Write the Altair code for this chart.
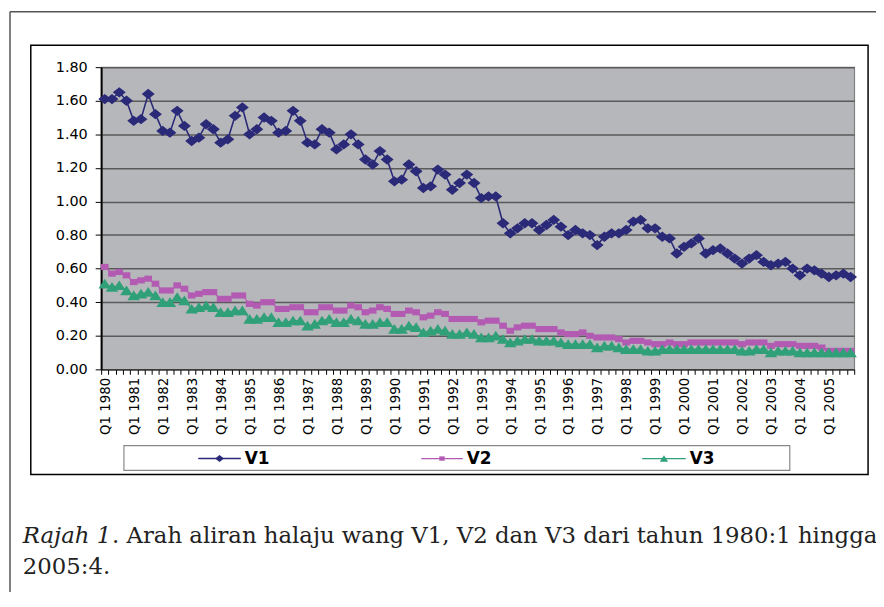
import altair as alt
import pandas as pd

series_names = ["V1", "V2", "V3"]
first_year = 1980

v1 = [1.61, 1.61, 1.65, 1.60, 1.48, 1.49, 1.64, 1.52, 1.42, 1.41,
      1.54, 1.45, 1.36, 1.38, 1.46, 1.43, 1.35, 1.37, 1.51, 1.56,
      1.40, 1.43, 1.50, 1.48, 1.41, 1.42, 1.54, 1.48, 1.35, 1.34,
      1.43, 1.41, 1.31, 1.34, 1.40, 1.34, 1.25, 1.22, 1.30, 1.25,
      1.12, 1.13, 1.22, 1.18, 1.08, 1.09, 1.19, 1.16, 1.07, 1.11,
      1.16, 1.11, 1.02, 1.03, 1.03, 0.87, 0.81, 0.84, 0.87, 0.87,
      0.83, 0.86, 0.89, 0.85, 0.80, 0.83, 0.81, 0.80, 0.74, 0.79,
      0.81, 0.81, 0.83, 0.88, 0.89, 0.84, 0.84, 0.79, 0.78, 0.69,
      0.73, 0.75, 0.78, 0.69, 0.71, 0.72, 0.69, 0.66, 0.63, 0.66,
      0.68, 0.64, 0.62, 0.63, 0.64, 0.60, 0.56, 0.60, 0.59, 0.57,
      0.55, 0.56, 0.57, 0.55]
v2 = [0.61, 0.57, 0.58, 0.56, 0.52, 0.53, 0.54, 0.51, 0.47, 0.47,
      0.50, 0.48, 0.44, 0.45, 0.46, 0.46, 0.42, 0.42, 0.44, 0.44,
      0.39, 0.38, 0.40, 0.40, 0.36, 0.36, 0.37, 0.37, 0.34, 0.34,
      0.37, 0.37, 0.35, 0.35, 0.38, 0.37, 0.34, 0.35, 0.37, 0.36,
      0.33, 0.33, 0.35, 0.34, 0.31, 0.32, 0.34, 0.33, 0.30, 0.30,
      0.30, 0.30, 0.28, 0.29, 0.29, 0.26, 0.23, 0.25, 0.26, 0.26,
      0.24, 0.24, 0.24, 0.22, 0.21, 0.21, 0.22, 0.20, 0.19, 0.19,
      0.19, 0.18, 0.16, 0.17, 0.17, 0.16, 0.15, 0.15, 0.16, 0.15,
      0.15, 0.16, 0.16, 0.16, 0.16, 0.16, 0.16, 0.16, 0.15, 0.16,
      0.16, 0.16, 0.14, 0.15, 0.15, 0.15, 0.14, 0.14, 0.14, 0.13,
      0.11, 0.11, 0.11, 0.11]
v3 = [0.51, 0.49, 0.50, 0.47, 0.44, 0.45, 0.46, 0.44, 0.40, 0.40,
      0.43, 0.41, 0.36, 0.37, 0.38, 0.37, 0.34, 0.34, 0.35, 0.35,
      0.30, 0.30, 0.31, 0.31, 0.28, 0.28, 0.29, 0.29, 0.26, 0.27,
      0.29, 0.30, 0.28, 0.28, 0.30, 0.29, 0.27, 0.27, 0.28, 0.28,
      0.24, 0.24, 0.26, 0.25, 0.22, 0.23, 0.24, 0.23, 0.21, 0.21,
      0.22, 0.21, 0.19, 0.19, 0.20, 0.18, 0.16, 0.17, 0.18, 0.18,
      0.17, 0.17, 0.17, 0.16, 0.15, 0.15, 0.15, 0.15, 0.13, 0.14,
      0.14, 0.13, 0.12, 0.12, 0.12, 0.11, 0.11, 0.12, 0.12, 0.12,
      0.12, 0.12, 0.12, 0.12, 0.12, 0.12, 0.12, 0.12, 0.11, 0.11,
      0.12, 0.12, 0.10, 0.11, 0.11, 0.11, 0.10, 0.10, 0.10, 0.10,
      0.10, 0.10, 0.10, 0.10]

y_ticks = [0.0, 0.2, 0.4, 0.6, 0.8, 1.0, 1.2, 1.4, 1.6, 1.8]
caption_italic = "Rajah 1"
caption_rest = ". Arah aliran halaju wang V1, V2 dan V3 dari tahun 1980:1 hingga"
caption_line2 = "2005:4."

colors = ["#2B2A78", "#B35AB3", "#2FA077"]
shapes = ["M0,-0.8L1,0L0,0.8L-1,0Z",
          "M-1,-0.8L1,-0.8L1,0.8L-1,0.8Z",
          "M0,-0.8L1,0.75L-1,0.75Z"]
sizes = [170, 60, 160]
legend_sizes = [80, 30, 70]
widths = [1.6, 1.2, 1.2]

n = len(v1)
rows = []
for k, (name, vals) in enumerate(zip(series_names, [v1, v2, v3])):
    for i, v in enumerate(vals):
        rows.append({"t": i, "quarter": f"{first_year + i // 4}:{i % 4 + 1}",
                     "series": name, "value": v,
                     "msize": sizes[k], "sw": widths[k]})
df = pd.DataFrame(rows)

W, H = 760, 305
PL, PT = 94, 57

label_expr = ("(datum.value + 0.5) % 4 == 0 && datum.value < " + str(n - 1)
              + " ? 'Q1 ' + (" + str(first_year) + " + (datum.value + 0.5) / 4) : ''")

x_enc = alt.X("t:Q",
              scale=alt.Scale(domain=[-0.5, n - 0.5], nice=False, zero=False),
              axis=alt.Axis(values=[k - 0.5 for k in range(n + 1)], labelExpr=label_expr,
                            labelAngle=-90, labelOverlap=False, labelFlush=False,
                            labelBound=False, labelOffset=4.5, labelPadding=3,
                            labelFont="DejaVu Sans", labelFontSize=13.5, labelColor="#000",
                            tickSize=5, tickColor="#000", domainColor="#333",
                            domainWidth=1.2, grid=False, title=None))
y_enc = alt.Y("value:Q",
              scale=alt.Scale(domain=[0, 1.8], nice=False, zero=True),
              axis=alt.Axis(values=y_ticks, format=".2f", grid=True,
                            gridColor="#5A5A5A", gridWidth=1.5,
                            tickSize=6, tickColor="#000", labelPadding=8,
                            labelFont="DejaVu Sans", labelFontSize=14.5, labelColor="#000",
                            domainColor="#000", domainWidth=2, title=None))

color_scale = alt.Scale(domain=series_names, range=colors)

lines = alt.Chart(df).mark_line().encode(
    x=x_enc, y=y_enc,
    color=alt.Color("series:N", scale=color_scale, legend=None),
    strokeWidth=alt.StrokeWidth("sw:Q", scale=None),
)
points = alt.Chart(df).mark_point(filled=True, opacity=1).encode(
    x=x_enc, y=y_enc,
    color=alt.Color("series:N", scale=color_scale, legend=None),
    shape=alt.Shape("series:N", scale=alt.Scale(domain=series_names, range=shapes), legend=None),
    size=alt.Size("msize:Q", scale=None),
)

one = pd.DataFrame({"d": [0]})


def px(x):
    return x - (PL + 8)


def py(y):
    return y - (PT + 8)


frame = alt.Chart(one).mark_rect(fill="transparent", stroke="#000", strokeWidth=1.5).encode(
    x=alt.value(px(31)), x2=alt.value(px(876)), y=alt.value(py(43)), y2=alt.value(py(476)))
outer_left = alt.Chart(one).mark_rule(color="#555", strokeWidth=1.5).encode(
    x=alt.value(px(10)), y=alt.value(py(9)), y2=alt.value(py(620)))
outer_top = alt.Chart(one).mark_rule(color="#555", strokeWidth=1.5).encode(
    x=alt.value(px(10)), x2=alt.value(px(900)), y=alt.value(py(9)))
legend_box = alt.Chart(one).mark_rect(fill="#fff", stroke="#888", strokeWidth=1.2).encode(
    x=alt.value(px(125)), x2=alt.value(px(797)), y=alt.value(py(447)), y2=alt.value(py(472)))

layers = [outer_left, outer_top, frame, legend_box, lines, points]

legend_line_x = [(200, 243), (425, 467), (648, 692)]
legend_y = 460
for k, name in enumerate(series_names):
    a, b = legend_line_x[k]
    layers.append(alt.Chart(one).mark_rule(color=colors[k], strokeWidth=widths[k]).encode(
        x=alt.value(px(a)), x2=alt.value(px(b)), y=alt.value(py(legend_y))))
    layers.append(alt.Chart(one).mark_point(filled=True, opacity=1, color=colors[k]).encode(
        x=alt.value(px((a + b) / 2)), y=alt.value(py(legend_y)),
        shape=alt.value(shapes[k]), size=alt.value(legend_sizes[k])))
    layers.append(alt.Chart(one).mark_text(text=name, font="DejaVu Sans", fontWeight="bold",
                                           fontSize=17, align="left", baseline="middle",
                                           color="#000").encode(
        x=alt.value(px(b + 4)), y=alt.value(py(legend_y + 0.5))))

cap_font = "DejaVu Serif"
cap_size = 23
layers.append(alt.Chart(one).mark_text(text=caption_italic, font=cap_font, fontStyle="italic",
                                       fontSize=cap_size, align="left", baseline="alphabetic",
                                       color="#222").encode(
    x=alt.value(px(23)), y=alt.value(py(545))))
layers.append(alt.Chart(one).mark_text(text=caption_rest, font=cap_font,
                                       fontSize=cap_size, align="left", baseline="alphabetic",
                                       color="#222").encode(
    x=alt.value(px(113)), y=alt.value(py(545))))
layers.append(alt.Chart(one).mark_text(text=caption_line2, font=cap_font,
                                       fontSize=cap_size, align="left", baseline="alphabetic",
                                       color="#222").encode(
    x=alt.value(px(23)), y=alt.value(py(577))))

chart = alt.layer(*layers).properties(
    width=W, height=H,
    padding={"left": PL, "top": PT, "right": 22, "bottom": 222},
    autosize=alt.AutoSizeParams(type="none"),
    background="#ffffff",
).configure_view(fill="#B6B7BB", stroke="#808080", strokeWidth=1.2)

chart.save("out.html", embed_options={"renderer": "svg", "actions": False})
